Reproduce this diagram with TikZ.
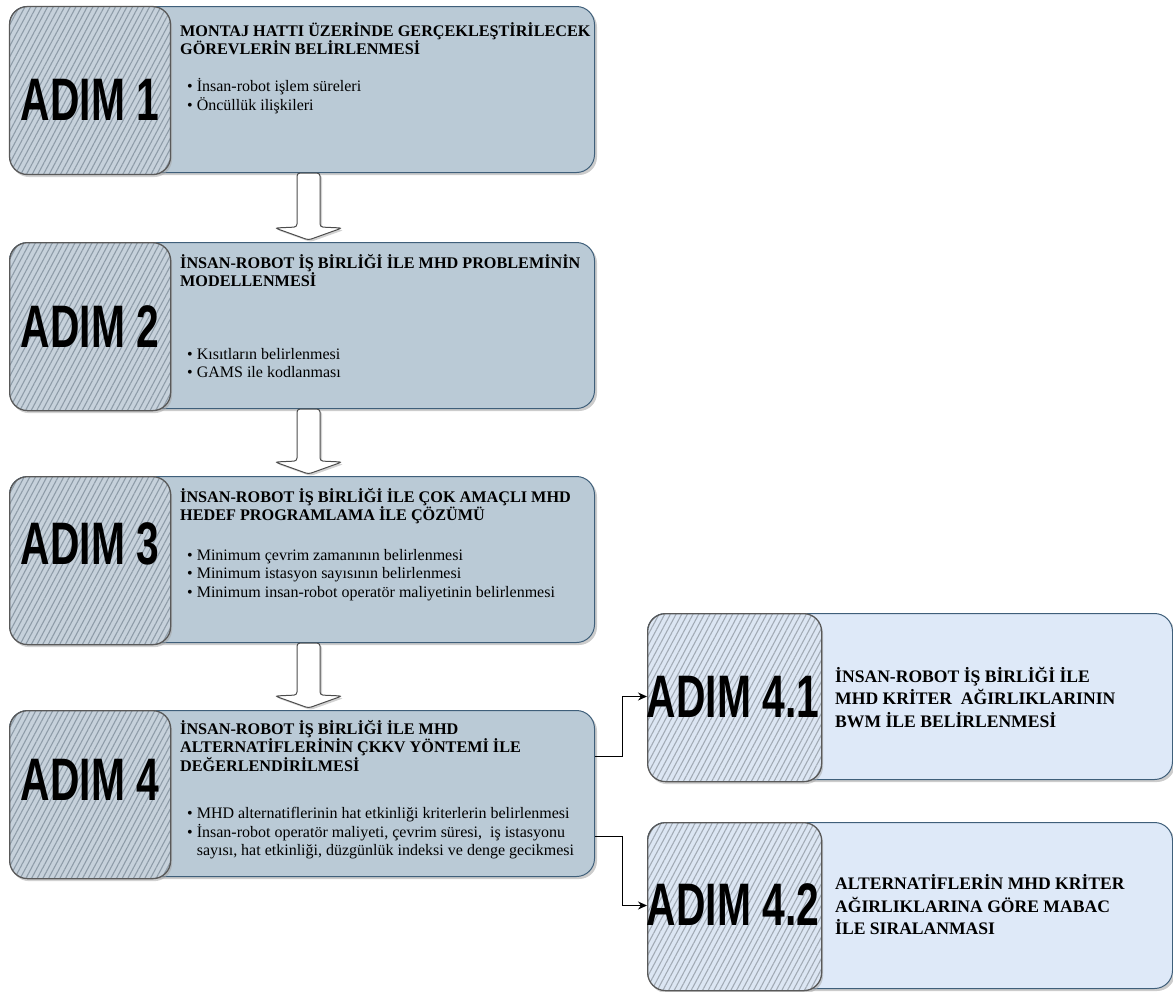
\documentclass[tikz,border=0pt]{standalone}
\usepackage{fontspec}
\setmainfont{Liberation Serif}
\newfontfamily\adimfont{Liberation Sans}[FakeStretch=0.68]
\usetikzlibrary{positioning,calc,shadows,patterns.meta,arrows.meta}

\definecolor{stepfill}{HTML}{BACAD6}
\definecolor{stepline}{HTML}{3F5F7A}
\definecolor{subfill}{HTML}{DEE9F8}
\definecolor{hatchbase}{HTML}{C6D1DB}
\definecolor{hatchline}{HTML}{8E9CA8}
\definecolor{subhatchbase}{HTML}{DCE6F3}
\definecolor{subhatchline}{HTML}{A2ABB5}

\tikzset{
  stepbox/.style={draw=stepline, line width=1pt, fill=stepfill, rounded corners=18pt,
    minimum width=585pt, minimum height=166pt, anchor=north west, inner sep=0pt,
    drop shadow={shadow xshift=2.5pt, shadow yshift=-2.5pt, fill=black!40}},
  subbox/.style={stepbox, fill=subfill, minimum width=525pt},
  hatchbox/.style={draw=black!65, line width=1.3pt, rounded corners=18pt, anchor=north west,
    minimum width=161pt, minimum height=168pt, inner sep=0pt,
    drop shadow={shadow xshift=1.5pt, shadow yshift=-2.5pt, fill=black!35},
    preaction={fill=hatchbase},
    pattern={Lines[angle=62,distance=5pt,line width=1.1pt]}, pattern color=hatchline},
  subhatch/.style={hatchbox, minimum width=174pt, preaction={fill=subhatchbase}, pattern color=subhatchline},
  adimlabel/.style={font=\adimfont\bfseries\fontsize{60}{60}\selectfont, inner sep=0pt},
  titletext/.style={font=\bfseries\fontsize{16.2}{18.5}\selectfont, align=left, anchor=north west, inner sep=0pt},
  itemtext/.style={font=\fontsize{16}{18.6}\selectfont, align=left, anchor=north west, inner sep=0pt},
  subtext/.style={font=\bfseries\fontsize{17.6}{22.5}\selectfont, align=left, anchor=west, inner sep=0pt},
  flowarrow/.style={draw=black!70, line width=1pt, fill=white, rounded corners=3pt,
    drop shadow={shadow xshift=2pt, shadow yshift=-2pt, fill=black!35}},
  elbow/.style={draw=black, line width=1pt, -{Stealth[length=9pt,width=8pt]}}
}

% hollow block arrow from the bottom of one step to the top of the next
\newcommand{\flowdown}[2]{%
  \path[flowarrow] let \p1=(#1.south), \p2=(#2.north) in
    (\x1-5pt,\y1) -- (\x1-5pt,\y2+15pt) -- (\x1-27pt,\y2+14pt) -- (\x1+6.5pt,\y2+2pt)
    -- (\x1+40pt,\y2+14pt) -- (\x1+18pt,\y2+15pt) -- (\x1+18pt,\y1) -- cycle;}

\begin{document}
\begin{tikzpicture}[x=1pt,y=-1pt]
\useasboundingbox (0,0) rectangle (1173,991);

% main steps
\node[stepbox] (s1) at (9,6) {};
\node[hatchbox] (h1) at (9,6) {};
\node[adimlabel] (a1) at (90,100) {ADIM 1};
\node[titletext] (t1) at (180,22) {MONTAJ HATTI ÜZERİNDE GERÇEKLEŞTİRİLECEK\\GÖREVLERİN BELİRLENMESİ};
\node[itemtext] (b1) at (187,78) {\textbullet\ İnsan-robot işlem süreleri\\\textbullet\ Öncüllük ilişkileri};

\node[stepbox] (s2) at (9,242) {};
\node[hatchbox] (h2) at (9,242) {};
\node[adimlabel] (a2) at (90,327) {ADIM 2};
\node[titletext] (t2) at (180,254) {İNSAN-ROBOT İŞ BİRLİĞİ İLE MHD PROBLEMİNİN\\MODELLENMESİ};
\node[itemtext] (b2) at (187,348) {\textbullet\ Kısıtların belirlenmesi\\\textbullet\ GAMS ile kodlanması};

\node[stepbox] (s3) at (9,476) {};
\node[hatchbox] (h3) at (9,476) {};
\node[adimlabel] (a3) at (90,544) {ADIM 3};
\node[titletext] (t3) at (180,488) {İNSAN-ROBOT İŞ BİRLİĞİ İLE ÇOK AMAÇLI MHD\\HEDEF PROGRAMLAMA İLE ÇÖZÜMÜ};
\node[itemtext] (b3) at (187,549) {\textbullet\ Minimum çevrim zamanının belirlenmesi\\\textbullet\ Minimum istasyon sayısının belirlenmesi\\\textbullet\ Minimum insan-robot operatör maliyetinin belirlenmesi};

\node[stepbox] (s4) at (9,710) {};
\node[hatchbox] (h4) at (9,710) {};
\node[adimlabel] (a4) at (90,780) {ADIM 4};
\node[titletext] (t4) at (180,720) {İNSAN-ROBOT İŞ BİRLİĞİ İLE MHD\\ALTERNATİFLERİNİN ÇKKV YÖNTEMİ İLE\\DEĞERLENDİRİLMESİ};
\node[itemtext] (b4) at (187,807) {\textbullet\ MHD alternatiflerinin hat etkinliği kriterlerin belirlenmesi\\\textbullet\ İnsan-robot operatör maliyeti, çevrim süresi,\ \ iş istasyonu\\\phantom{\textbullet\ }sayısı, hat etkinliği, düzgünlük indeksi ve denge gecikmesi};

% sub steps
\node[subbox] (s41) at (647,613) {};
\node[subhatch] (h41) at (647,613) {};
\node[adimlabel] (a41) at (733,697) {ADIM 4.1};
\node[subtext] (t41) at (835,697) {İNSAN-ROBOT İŞ BİRLİĞİ İLE\\MHD KRİTER\ \ AĞIRLIKLARININ\\BWM İLE BELİRLENMESİ};

\node[subbox] (s42) at (647,822) {};
\node[subhatch] (h42) at (647,822) {};
\node[adimlabel] (a42) at (733,905) {ADIM 4.2};
\node[subtext] (t42) at (835,905) {ALTERNATİFLERİN MHD KRİTER\\AĞIRLIKLARINA GÖRE MABAC\\İLE SIRALANMASI};

% arrows
\flowdown{s1}{s2}
\flowdown{s2}{s3}
\flowdown{s3}{s4}
\draw[elbow] ([yshift=37pt]s4.east) -- ++(27pt,0) |- (s41.west);
\draw[elbow] ([yshift=-43pt]s4.east) -- ++(27pt,0) |- (s42.west);
\end{tikzpicture}
\end{document}
